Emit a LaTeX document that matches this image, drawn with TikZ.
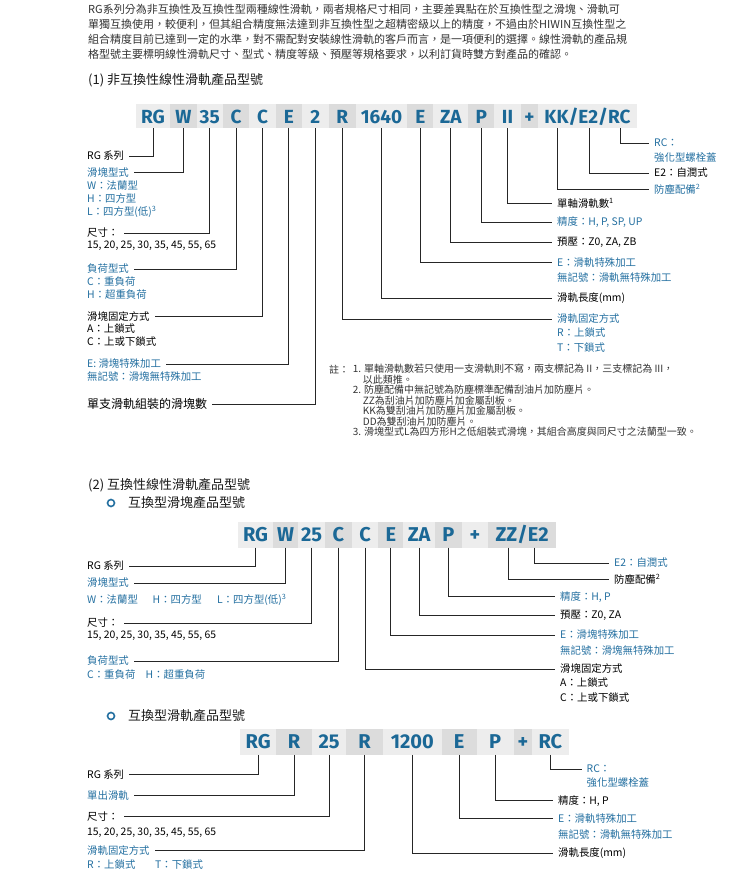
\documentclass[tikz,border=0pt]{standalone}
\usepackage{fontspec}
\setmainfont{Noto Sans CJK TC}
\newfontfamily\codefont{Fira Sans}
\XeTeXlinebreaklocale "zh"
\XeTeXlinebreakskip=0pt plus 1pt
\usetikzlibrary{positioning}

\definecolor{codeblue}{HTML}{1B6896}
\definecolor{lblblue}{HTML}{236FA0}
\definecolor{boxlight}{HTML}{EDEDED}
\definecolor{boxdark}{HTML}{DCDCDC}
\definecolor{txtgray}{HTML}{333333}

\tikzset{
  codebox/.style={fill=#1, minimum height=24pt, inner sep=0pt, outer sep=0pt,
    text height=13.6pt, text depth=0pt, text=codeblue,
    font=\codefont\bfseries\fontsize{19}{19}\selectfont},
  lbl/.style={anchor=west, inner sep=3pt, font=\fontsize{10.4}{12}\selectfont},
  blue lbl/.style={lbl, text=lblblue},
  head/.style={anchor=west, inner sep=3pt, text=black!90, font=\fontsize{13}{15}\selectfont},
  para/.style={anchor=west, inner sep=0pt, text=txtgray, font=\fontsize{11}{13}\selectfont},
  bullet/.style={circle, draw=lblblue, line width=1.6pt, minimum size=7pt, inner sep=0pt},
  link/.style={draw=black!85, line width=0.9pt, shorten >=2pt},
}

\begin{document}
\begin{tikzpicture}[x=1pt, y=-1pt]
  \useasboundingbox (0,0) rectangle (750,874);

  % intro text
  \node[para] (p1) at (88,9) {\makebox[570pt][s]{RG系列分為非互換性及互換性型兩種線性滑軌，兩者規格尺寸相同，主要差異點在於互換性型之滑塊、滑軌可}};
  \node[para] (p2) at (88,24) {\makebox[570pt][s]{單獨互換使用，較便利，但其組合精度無法達到非互換性型之超精密級以上的精度，不過由於HIWIN互換性型之}};
  \node[para] (p3) at (88,39) {\makebox[570pt][s]{組合精度目前已達到一定的水準，對不需配對安裝線性滑軌的客戶而言，是一項便利的選擇。線性滑軌的產品規}};
  \node[para] (p4) at (88,54) {格型號主要標明線性滑軌尺寸、型式、精度等級、預壓等規格要求，以利訂貨時雙方對產品的確認。};

  % (1) non-interchangeable
  \node[head] (h1) at (85,80) {(1) 非互換性線性滑軌產品型號};

  \node[codebox=boxlight, minimum width=34pt] (rg1) at (153,116.3) {RG};
  \node[codebox=boxdark, minimum width=26.7pt, right=0pt of rg1] (w1) {W};
  \node[codebox=boxlight, minimum width=26pt, right=0pt of w1] (sz1) {35};
  \node[codebox=boxdark, minimum width=26.6pt, right=0pt of sz1] (ld1) {C};
  \node[codebox=boxlight, minimum width=26.7pt, right=0pt of ld1] (fx1) {C};
  \node[codebox=boxdark, minimum width=25.7pt, right=0pt of fx1] (sp1) {E};
  \node[codebox=boxlight, minimum width=27.3pt, right=0pt of sp1] (nb1) {2};
  \node[codebox=boxdark, minimum width=26.7pt, right=0pt of nb1] (rf1) {R};
  \node[codebox=boxlight, minimum width=51.6pt, right=0pt of rf1] (len1) {1640};
  \node[codebox=boxdark, minimum width=26pt, right=0pt of len1] (e1) {E};
  \node[codebox=boxlight, minimum width=35pt, right=0pt of e1] (za1) {ZA};
  \node[codebox=boxdark, minimum width=26pt, right=0pt of za1] (p1c) {P};
  \node[codebox=boxlight, minimum width=26.4pt, right=0pt of p1c] (ii1) {II};
  \node[codebox=boxdark, minimum width=17.6pt, right=0pt of ii1] (pl1) {+};
  \node[codebox=boxlight, minimum width=98.4pt, right=0pt of pl1] (acc1) {KK/E2/RC};
  \coordinate (kk1) at (557.5,128.3);
  \coordinate (e2c1) at (589,128.3);
  \coordinate (rc1) at (620,128.3);

  \node[lbl] (lrg1) at (84,156) {RG 系列};
  \node[blue lbl] (lw1) at (84,172.5) {滑塊型式};
  \node[blue lbl] (lw1a) at (84,186) {W：法蘭型};
  \node[blue lbl] (lw1b) at (84,199) {H：四方型};
  \node[blue lbl] (lw1c) at (84,212) {L：四方型(低)\textsuperscript{3}};
  \node[lbl] (lsz1) at (84,233) {尺寸：};
  \node[lbl] (lsz1a) at (84,245.5) {15, 20, 25, 30, 35, 45, 55, 65};
  \node[blue lbl] (lld1) at (84,269) {負荷型式};
  \node[blue lbl] (lld1a) at (84,282) {C：重負荷};
  \node[blue lbl] (lld1b) at (84,294.5) {H：超重負荷};
  \node[lbl] (lfx1) at (84,316.7) {滑塊固定方式};
  \node[lbl] (lfx1a) at (84,329) {A：上鎖式};
  \node[lbl] (lfx1b) at (84,342) {C：上或下鎖式};
  \node[blue lbl] (lsp1) at (84,364) {E: 滑塊特殊加工};
  \node[blue lbl] (lsp1a) at (84,376.7) {無記號：滑塊無特殊加工};
  \node[lbl, font=\fontsize{12}{14}\selectfont] (lnb1) at (84,404) {單支滑軌組裝的滑塊數};

  \node[blue lbl] (lrc1) at (651,143) {RC：};
  \node[blue lbl] (lrc1a) at (651,157.3) {強化型螺栓蓋};
  \node[lbl] (le21) at (651,173) {E2：自潤式};
  \node[blue lbl] (lkk1) at (651,189.3) {防塵配備\textsuperscript{2}};
  \node[lbl] (lii1) at (554,203.5) {單軸滑軌數\textsuperscript{1}};
  \node[blue lbl] (lp1) at (554,222.3) {精度：H, P, SP, UP};
  \node[lbl] (lza1) at (554,242.7) {預壓：Z0, ZA, ZB};
  \node[blue lbl] (le1) at (554,262.3) {E：滑軌特殊加工};
  \node[blue lbl] (le1a) at (554,277.5) {無記號：滑軌無特殊加工};
  \node[lbl] (llen1) at (554,298.3) {滑軌長度(mm)};
  \node[blue lbl] (lrf1) at (554,319) {滑軌固定方式};
  \node[blue lbl] (lrf1a) at (554,333) {R：上鎖式};
  \node[blue lbl] (lrf1b) at (554,347.7) {T：下鎖式};

  \draw[link] (rg1.south) |- (lrg1.east);
  \draw[link] (w1.south) |- (lw1.east);
  \draw[link] (sz1.south) |- (lsz1.east);
  \draw[link] (ld1.south) |- (lld1.east);
  \draw[link] (fx1.south) |- (lfx1.east);
  \draw[link] (sp1.south) |- (lsp1.east);
  \draw[link] (nb1.south) |- (lnb1.east);
  \draw[link] (rf1.south) |- (lrf1.west);
  \draw[link] (len1.south) |- (llen1.west);
  \draw[link] (e1.south) |- (le1.west);
  \draw[link] (za1.south) |- (lza1.west);
  \draw[link] (p1c.south) |- (lp1.west);
  \draw[link] (ii1.south) |- (lii1.west);
  \draw[link] (kk1) |- (lkk1.west);
  \draw[link] (e2c1) |- (le21.west);
  \draw[link] (rc1) |- (lrc1.west);

  % notes
  \node[anchor=west, inner sep=0pt, text=txtgray, font=\fontsize{10}{10.5}\selectfont] (nt) at (329,369.3) {註：};
  \node[anchor=north west, inner sep=0pt, align=left, text=txtgray,
        font=\fontsize{10}{10.5}\selectfont] (notes) at (352.7,364.3)
    {1. 單軸滑軌數若只使用一支滑軌則不寫，兩支標記為 II，三支標記為 III，\\
     \hspace*{10pt}以此類推。\\
     2. 防塵配備中無記號為防塵標準配備刮油片加防塵片。\\
     \hspace*{10pt}ZZ為刮油片加防塵片加金屬刮板。\\
     \hspace*{10pt}KK為雙刮油片加防塵片加金屬刮板。\\
     \hspace*{10pt}DD為雙刮油片加防塵片。\\
     3. 滑塊型式L為四方形H之低組裝式滑塊，其組合高度與同尺寸之法蘭型一致。};

  % (2) interchangeable
  \node[head] (h2) at (85,485) {(2) 互換性線性滑軌產品型號};
  \node[bullet] (b1) at (111,503) {};
  \node[head] (s1) at (125,503) {互換型滑塊產品型號};

  \tikzset{codebox/.append style={minimum height=25.4pt, font=\codefont\bfseries\fontsize{20}{20}\selectfont}}
  \node[codebox=boxlight, minimum width=34.4pt] (rg2) at (255.5,535) {RG};
  \node[codebox=boxdark, minimum width=25.6pt, right=0pt of rg2] (w2) {W};
  \node[codebox=boxlight, minimum width=26.7pt, right=0pt of w2] (sz2) {25};
  \node[codebox=boxdark, minimum width=26.7pt, right=0pt of sz2] (ld2) {C};
  \node[codebox=boxlight, minimum width=26.6pt, right=0pt of ld2] (fx2) {C};
  \node[codebox=boxdark, minimum width=25pt, right=0pt of fx2] (e2) {E};
  \node[codebox=boxlight, minimum width=31.7pt, right=0pt of e2] (za2) {ZA};
  \node[codebox=boxdark, minimum width=26.7pt, right=0pt of za2] (p2c) {P};
  \node[codebox=boxlight, minimum width=26.6pt, right=0pt of p2c] (pl2) {+};
  \node[codebox=boxdark, minimum width=67.7pt, right=0pt of pl2] (acc2) {ZZ/E2};
  \coordinate (zz2) at (508.3,547.7);
  \coordinate (e2c2) at (534.3,547.7);

  \node[lbl] (lrg2) at (84,566) {RG 系列};
  \node[blue lbl] (lw2) at (84,583) {滑塊型式};
  \node[blue lbl] (lw2a) at (84,600) {\makebox[65.5pt][l]{W：法蘭型}\makebox[64.5pt][l]{H：四方型}L：四方型(低)\textsuperscript{3}};
  \node[lbl] (lsz2) at (84,623) {尺寸：};
  \node[lbl] (lsz2a) at (84,635.7) {15, 20, 25, 30, 35, 45, 55, 65};
  \node[blue lbl] (lld2) at (84,661) {負荷型式};
  \node[blue lbl] (lld2a) at (84,675) {\makebox[58.5pt][l]{C：重負荷}H：超重負荷};

  \node[blue lbl] (le22) at (611,563) {E2：自潤式};
  \node[lbl] (lzz2) at (611,579) {防塵配備\textsuperscript{2}};
  \node[blue lbl] (lp2) at (557,596.7) {精度：H, P};
  \node[lbl] (lza2) at (557,615.7) {預壓：Z0, ZA};
  \node[blue lbl] (le2) at (557,635) {E：滑塊特殊加工};
  \node[blue lbl] (le2a) at (557,651) {無記號：滑塊無特殊加工};
  \node[lbl] (lfx2) at (557,669) {滑塊固定方式};
  \node[lbl] (lfx2a) at (557,682.3) {A：上鎖式};
  \node[lbl] (lfx2b) at (557,697.3) {C：上或下鎖式};

  \draw[link] (rg2.south) |- (lrg2.east);
  \draw[link] (w2.south) |- (lw2.east);
  \draw[link] (sz2.south) |- (lsz2.east);
  \draw[link] (ld2.south) |- (lld2.east);
  \draw[link] (fx2.south) |- (lfx2.west);
  \draw[link] (e2.south) |- (le2.west);
  \draw[link] (za2.south) |- (lza2.west);
  \draw[link] (p2c.south) |- (lp2.west);
  \draw[link] (zz2) |- (lzz2.west);
  \draw[link] (e2c2) |- (le22.west);

  % rail code
  \node[bullet] (b2) at (111,716) {};
  \node[head] (s2) at (125,716) {互換型滑軌產品型號};

  \tikzset{codebox/.append style={minimum height=25.7pt}}
  \node[codebox=boxlight, minimum width=36pt] (rg3) at (258.2,742) {RG};
  \node[codebox=boxdark, minimum width=35.6pt, right=0pt of rg3] (r3) {R};
  \node[codebox=boxlight, minimum width=34.5pt, right=0pt of r3] (sz3) {25};
  \node[codebox=boxdark, minimum width=36.4pt, right=0pt of sz3] (rf3) {R};
  \node[codebox=boxlight, minimum width=59.3pt, right=0pt of rf3] (len3) {1200};
  \node[codebox=boxdark, minimum width=34.5pt, right=0pt of len3] (e3) {E};
  \node[codebox=boxlight, minimum width=37.2pt, right=0pt of e3] (p3c) {P};
  \node[codebox=boxdark, minimum width=18.6pt, right=0pt of p3c] (pl3) {+};
  \node[codebox=boxlight, minimum width=36.2pt, right=0pt of pl3] (rc3) {RC};

  \node[lbl] (lrg3) at (84,774.5) {RG 系列};
  \node[blue lbl] (lr3) at (84,795.5) {單出滑軌};
  \node[lbl] (lsz3) at (84,816.5) {尺寸：};
  \node[lbl] (lsz3a) at (84,832.7) {15, 20, 25, 30, 35, 45, 55, 65};
  \node[blue lbl] (lrf3) at (84,850.5) {滑軌固定方式};
  \node[blue lbl] (lrf3a) at (84,865) {\makebox[68pt][l]{R：上鎖式}T：下鎖式};

  \node[blue lbl] (lrc3) at (583.5,769) {RC：};
  \node[blue lbl] (lrc3a) at (583.5,782.7) {強化型螺栓蓋};
  \node[lbl] (lp3) at (555,800.7) {精度：H, P};
  \node[blue lbl] (le3) at (555,818.3) {E：滑軌特殊加工};
  \node[blue lbl] (le3a) at (555,834.3) {無記號：滑軌無特殊加工};
  \node[lbl] (llen3) at (555,853) {滑軌長度(mm)};

  \draw[link] (rg3.south) |- (lrg3.east);
  \draw[link] (r3.south) |- (lr3.east);
  \draw[link] (sz3.south) |- (lsz3.east);
  \draw[link] (rf3.south) |- (lrf3.east);
  \draw[link] (len3.south) |- (llen3.west);
  \draw[link] (e3.south) |- (le3.west);
  \draw[link] (p3c.south) |- (lp3.west);
  \draw[link] (rc3.south) |- (lrc3.west);
\end{tikzpicture}
\end{document}
